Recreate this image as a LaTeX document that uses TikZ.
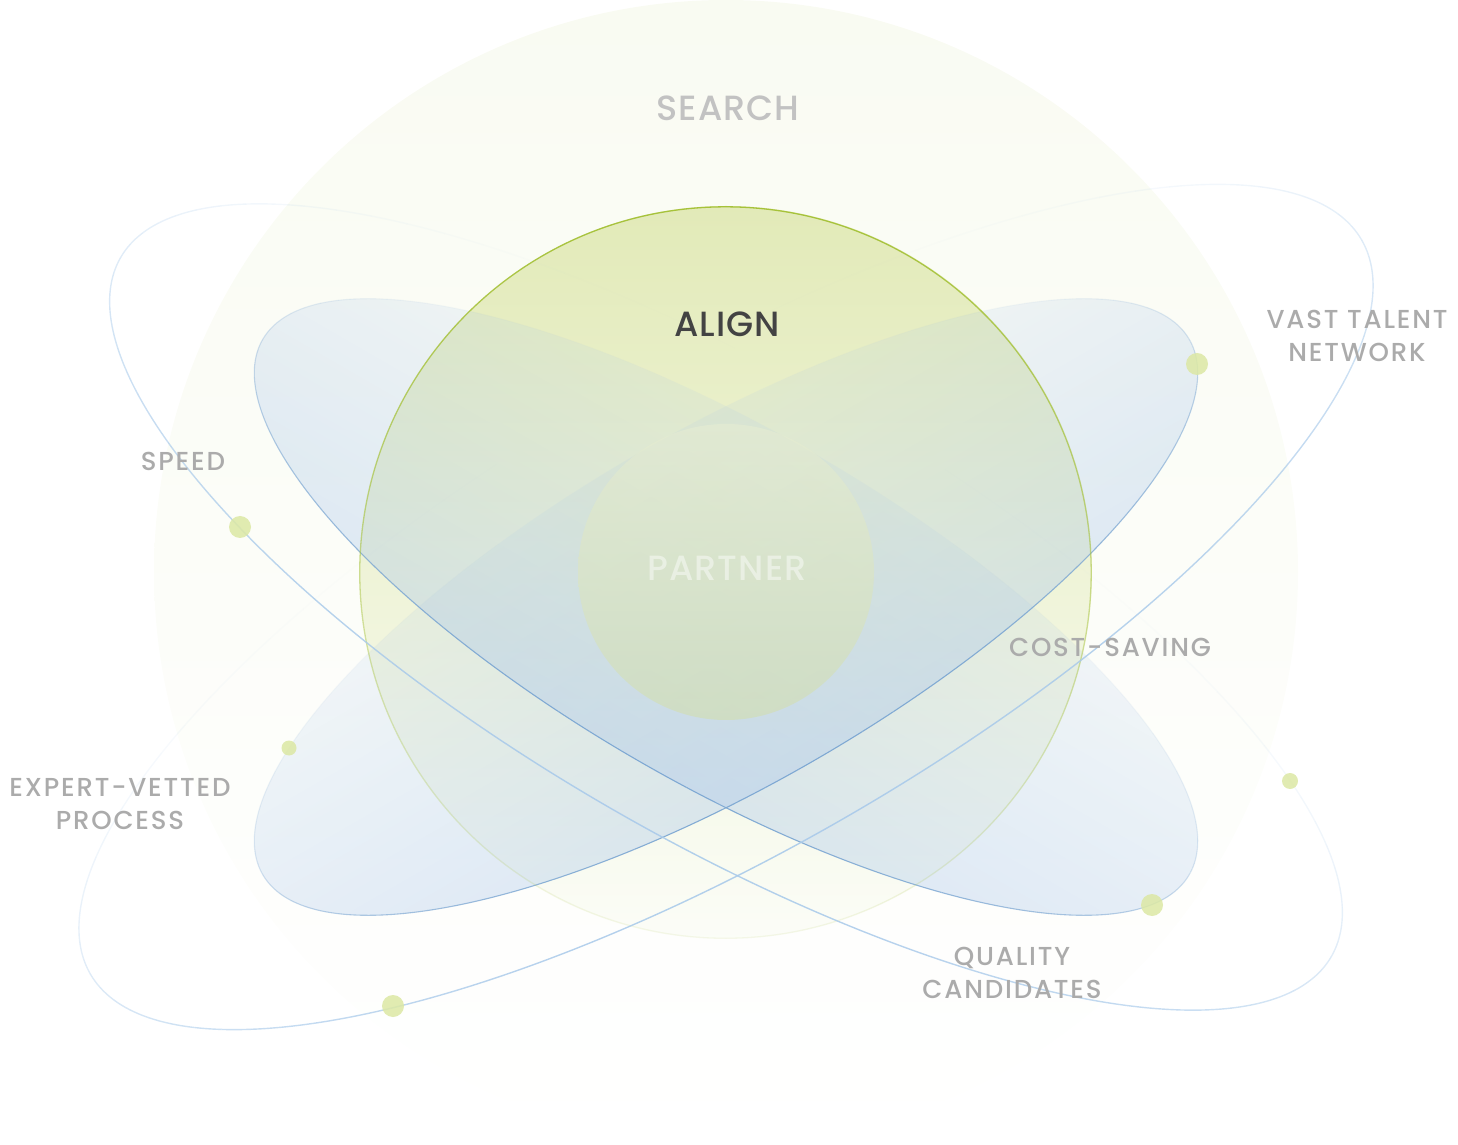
\documentclass[tikz,border=0pt]{standalone}
\usepackage{fontspec}
\setmainfont{Poppins}
\newfontfamily\bigfont{Poppins Medium}[LetterSpace=3]
\newfontfamily\smallfont{Poppins Medium}[LetterSpace=7]
\usetikzlibrary{fadings}
\definecolor{searchfill}{HTML}{F9FBF2}
\definecolor{alignfill}{HTML}{E2EAB8}
\definecolor{alignline}{HTML}{A6C23A}
\definecolor{partnerfill}{HTML}{D2DEAE}
\definecolor{leafblue}{HTML}{ACC8EA}
\definecolor{leafline}{HTML}{7BA6D2}
\definecolor{orbitline}{HTML}{A9CAEA}
\definecolor{dotfill}{HTML}{DCE8A4}
\definecolor{labelgray}{HTML}{ABABAB}
\definecolor{searchgray}{HTML}{C2C2C2}
\definecolor{aligngray}{HTML}{434343}
\tikzfading[name=fadebottom, top color=transparent!0, bottom color=transparent!90]
\tikzfading[name=leaffade, top color=transparent!100, bottom color=transparent!0]
\begin{document}
\begin{tikzpicture}[x=1pt, y=1pt,
		spot/.style={circle, fill=dotfill, fill opacity=0.85, inner sep=0pt, minimum size=#1},
		biglabel/.style={font=\bigfont\fontsize{35}{40}\selectfont},
		smalllabel/.style={font=\smallfont\fontsize{26}{33}\selectfont, text=labelgray, align=center}]
	\useasboundingbox (0,0) rectangle (1458,1144);
	\shade[top color=searchfill, middle color=searchfill, bottom color=white] (726,572) circle (572pt);
	\shade[top color=alignfill, bottom color=searchfill!60!white] (726,572) circle (366pt);
	
	\foreach \r in {-30,30} {
		\begin{scope}[transform canvas={rotate around={\r:(726,537)}}]
			\clip (726,537) ellipse [x radius=535pt, y radius=177pt];
			\fill[leafblue, fill opacity=0.52, path fading=leaffade] (190,183) rectangle (1262,891);
		\end{scope}
	}
	
	\shade[top color=partnerfill!55!white, bottom color=partnerfill, fill opacity=0.6] (726,572) circle (148pt);
	
	\foreach \r in {-30,30}
		\foreach \t in {0,4,...,356} {
			\pgfmathsetmacro{\op}{0.95*((1-sin(\t+2))/2)^1.6}
			\draw[leafline, line width=1.1pt, draw opacity=\op, rotate around={\r:(726,537)}]
				([shift={(\t:535pt and 177pt)}]726,537) arc [start angle=\t, end angle=\t+4, x radius=535pt, y radius=177pt];
		}
	
	\draw[draw=alignline, line width=1.3pt, path fading=fadebottom] (726,572) circle (366pt);
	
	\foreach \r/\a/\b in {-30/699/232, 30/734/242}
		\foreach \t in {0,4,...,356} {
			\pgfmathsetmacro{\op}{0.9*((1-sin(\t+2))/2)^1.3}
			\draw[orbitline, line width=1.4pt, draw opacity=\op, rotate around={\r:(726,537)}]
				([shift={(\t:\a pt and \b pt)}]726,537) arc [start angle=\t, end angle=\t+4, x radius=\a pt, y radius=\b pt];
		}
	
	\node[spot=22pt] (speeddot) at (240,617) {};
	\node[spot=15pt] (expertdot) at (289,396) {};
	\node[spot=22pt] (lowdot) at (393,138) {};
	\node[spot=22pt] (talentdot) at (1197,780) {};
	\node[spot=16pt] (costdot) at (1290,363) {};
	\node[spot=22pt] (qualitydot) at (1152,239) {};
	
	\node[biglabel, text=searchgray] (search) at (728,1036) {SEARCH};
	\node[biglabel, text=aligngray] (align) at (727,820) {ALIGN};
	\node[biglabel, text=white, text opacity=0.45] (partner) at (727,576) {PARTNER};
	\node[smalllabel] (talent) at (1357,808) {VAST TALENT\\NETWORK};
	\node[smalllabel] (speed) at (183,683) {SPEED};
	\node[smalllabel] (expert) at (120,340) {EXPERT-VETTED\\PROCESS};
	\node[smalllabel] (cost) at (1110,497) {COST-SAVING};
	\node[smalllabel] (quality) at (1012,171) {QUALITY\\CANDIDATES};
\end{tikzpicture}
\end{document}
